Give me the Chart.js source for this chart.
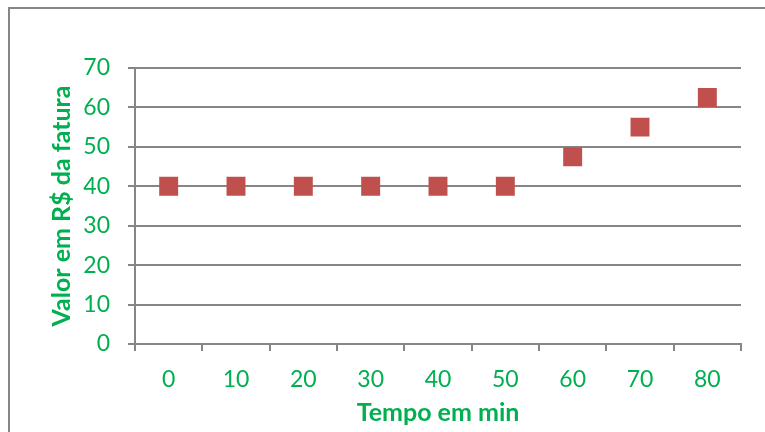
<!DOCTYPE html>
<html>
<head>
<meta charset="utf-8">
<script src="https://cdn.jsdelivr.net/npm/chart.js@4/dist/chart.umd.min.js"></script>
<style>
  html, body { margin: 0; padding: 0; background: #fff; }
  #wrap { width: 765px; height: 432px; position: relative; }
</style>
</head>
<body>
<div id="wrap"><canvas id="c" width="765" height="432"></canvas></div>
<script>
// Minutes of usage and the resulting bill value (R$)
const tempoMin = ['0', '10', '20', '30', '40', '50', '60', '70', '80'];
const valorFatura = [40, 40, 40, 40, 40, 40, 47.5, 55, 62.5];
const yTicks = [0, 10, 20, 30, 40, 50, 60, 70];

const green = '#00B050';
const axisGray = '#868686';
const fontFamily = 'Lato, "Open Sans", sans-serif';

// Frame drawn around the whole chart
const frame = {
  id: 'frame',
  beforeDraw(chart) {
    const ctx = chart.ctx;
    ctx.save();
    ctx.fillStyle = '#fff';
    ctx.fillRect(0, 0, chart.width, chart.height);
    ctx.strokeStyle = axisGray;
    ctx.lineWidth = 2;
    ctx.strokeRect(9, 8, 900, 600);
    ctx.restore();
  }
};

new Chart(document.getElementById('c'), {
  type: 'line',
  data: {
    labels: tempoMin,
    datasets: [{
      data: valorFatura,
      showLine: false,
      pointStyle: 'rect',
      pointRadius: 13.4,
      pointHoverRadius: 13.4,
      pointBackgroundColor: '#C0504D',
      pointBorderColor: '#C0504D',
      pointBorderWidth: 0
    }]
  },
  plugins: [frame],
  options: {
    responsive: false,
    animation: false,
    events: [],
    layout: { padding: { left: 47, right: 24, top: 68, bottom: 4 } },
    plugins: { legend: { display: false }, tooltip: { enabled: false } },
    scales: {
      x: {
        type: 'category',
        offset: true,
        afterFit(scale) { scale.height = 84; },
        grid: {
          offset: true,
          drawOnChartArea: false,
          drawTicks: true,
          tickLength: 7,
          tickColor: axisGray,
          lineWidth: 2
        },
        border: { color: axisGray, width: 2 },
        ticks: {
          color: green,
          padding: 15,
          font: { family: fontFamily, size: 23 },
          maxRotation: 0
        },
        title: {
          display: true,
          text: 'Tempo em min',
          color: green,
          font: { family: fontFamily, size: 25, weight: 'bold' },
          padding: { top: 4, bottom: 0 }
        }
      },
      y: {
        min: 0,
        max: 70,
        afterFit(scale) { scale.width = 88; },
        afterBuildTicks(axis) { axis.ticks = yTicks.map(v => ({ value: v })); },
        grid: {
          color: axisGray,
          lineWidth: 2,
          drawTicks: true,
          tickLength: 7,
          tickColor: axisGray
        },
        border: { color: axisGray, width: 2 },
        ticks: {
          color: green,
          padding: 18,
          font: { family: fontFamily, size: 23 }
        },
        title: {
          display: true,
          text: 'Valor em R$ da fatura',
          color: green,
          font: { family: fontFamily, size: 25, weight: 'bold' },
          padding: { top: 0, bottom: 6 }
        }
      }
    }
  }
});
</script>
</body>
</html>
